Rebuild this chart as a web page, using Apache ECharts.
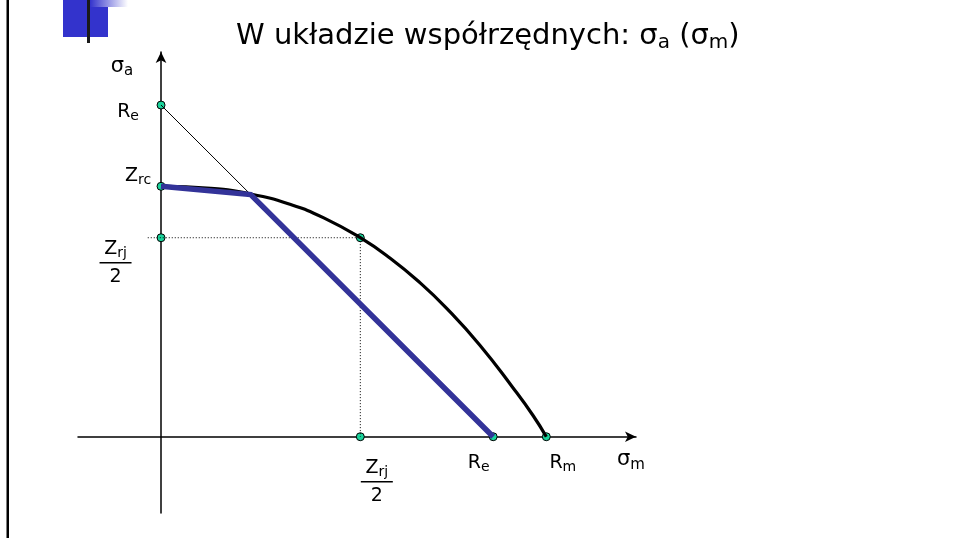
<!DOCTYPE html>
<html>
<head>
<meta charset="utf-8">
<script src="https://cdn.jsdelivr.net/npm/echarts@6/dist/echarts.min.js"></script>
<style>
  html, body { margin: 0; padding: 0; background: #fff; }
  #chart { width: 961px; height: 538px; }
</style>
</head>
<body>
<div id="chart"></div>
<script>
// Fatigue limit diagram in sigma_a(sigma_m) coordinates (values in % of Re)
const Re = 100;        // yield strength
const Rm = 116;        // tensile strength
const Zrc = 75.5;      // fully reversed fatigue limit
const ZrjHalf = 60;    // half of the pulsating fatigue limit
const kink = [27, 73]; // where the yield line meets the limit curve

// limit curve through Zrc, Zrj/2 and Rm
const curveSigmaM = [0, 15, 27, 39, 49, 60, 69, 78, 86, 96, 106, 112, 116];
const curveSigmaA = [75.5, 74.9, 73.2, 70.0, 66.0, 60, 53.8, 46.4, 38.7, 27.6, 14.7, 6.4, 0];

// simplified (design) limit polyline
const simplifiedSigmaM = [0, kink[0], Re];
const simplifiedSigmaA = [Zrc, kink[1], 0];

// yield line from Re on the sigma_a axis
const yieldSigmaM = [0, kink[0]];
const yieldSigmaA = [Re, kink[1]];

// guide lines to the Zrj/2 point
const guideSigmaM = [-4, ZrjHalf, ZrjHalf];
const guideSigmaA = [ZrjHalf, ZrjHalf, 0];

// marked points and their names
const pointSigmaM = [0, 0, 0, ZrjHalf, ZrjHalf, Re, Rm];
const pointSigmaA = [Re, Zrc, ZrjHalf, ZrjHalf, 0, 0, 0];
const pointNames = ['Re', 'Zrc', 'Zrj/2', '', 'Zrj/2', 'Re', 'Rm'];

const FONT = 'DejaVu Sans';
const zip = (xs, ys) => xs.map((x, i) => [x, ys[i]]);

const rich = {
  m: { fontFamily: FONT, fontSize: 19, color: '#000', lineHeight: 22 },
  s: { fontFamily: FONT, fontSize: 14, color: '#000', lineHeight: 22, padding: [9, 0, 0, 0] },
  bar: { width: 32, height: 1.5, lineHeight: 6, backgroundColor: '#000' },
  g: { fontFamily: FONT, fontSize: 21, color: '#000', lineHeight: 24 },
  gs: { fontFamily: FONT, fontSize: 15, color: '#000', lineHeight: 24, padding: [10, 0, 0, 0] }
};

function labelText(name) {
  if (name === 'Zrj/2') return '{m|Z}{s|rj}\n{bar|}\n{m|2}';
  if (!name) return '';
  return '{m|' + name[0] + '}{s|' + name.slice(1) + '}';
}

// label placement around each point (pixel offsets from the marker)
const labelOffsets = [[-33, 7], [-23, -10], [-45.5, 25], [0, 0], [16.5, 45], [-14.5, 26.5], [16.5, 26.5]];

const pointData = zip(pointSigmaM, pointSigmaA).map((v, i) => ({
  value: v,
  label: {
    show: !!pointNames[i],
    position: 'inside',
    offset: labelOffsets[i],
    formatter: labelText(pointNames[i]),
    rich: rich
  }
}));

const chart = echarts.init(document.getElementById('chart'), null, { renderer: 'canvas' });

chart.setOption({
  backgroundColor: '#fff',
  animation: false,
  title: {
    left: 231,
    top: 14,
    text: '{t|W układzie współrzędnych: σ}{ts|a}{t| (σ}{ts|m}{t|)}',
    textStyle: {
      fontWeight: 'normal',
      rich: {
        t: { fontFamily: FONT, fontSize: 29, fontWeight: 'normal', color: '#000', lineHeight: 35 },
        ts: { fontFamily: FONT, fontSize: 20, fontWeight: 'normal', color: '#000', lineHeight: 35, padding: [12, 0, 0, 0] }
      }
    }
  },
  grid: { left: 78, right: 325, top: 52, bottom: 25, containLabel: false },
  xAxis: {
    type: 'value',
    min: -25,
    max: 143,
    name: '{g|σ}{gs|m}',
    nameLocation: 'end',
    nameGap: -5,
    nameTextStyle: { align: 'center', verticalAlign: 'top', padding: [11, 0, 0, 0], rich: rich },
    axisLine: {
      onZero: true,
      symbol: ['none', 'arrow'],
      symbolSize: [8, 11],
      lineStyle: { color: '#000', width: 1.5 }
    },
    axisTick: { show: false },
    axisLabel: { show: false },
    splitLine: { show: false }
  },
  yAxis: {
    type: 'value',
    min: -23,
    max: 116,
    name: '{g|σ}{gs|a}',
    nameLocation: 'end',
    nameGap: -14.5,
    nameTextStyle: { align: 'center', verticalAlign: 'middle', padding: [0, 78, 0, 0], rich: rich },
    axisLine: {
      onZero: true,
      symbol: ['none', 'arrow'],
      symbolSize: [8, 11],
      lineStyle: { color: '#000', width: 1.5 }
    },
    axisTick: { show: false },
    axisLabel: { show: false },
    splitLine: { show: false }
  },
  series: [
    {
      name: 'punkty',
      type: 'scatter',
      z: 1,
      symbol: 'circle',
      symbolSize: 8,
      itemStyle: { color: '#19d39b', borderColor: '#000', borderWidth: 1, opacity: 1 },
      data: pointData
    },
    {
      name: 'linie pomocnicze',
      type: 'line',
      z: 2,
      symbol: 'none',
      lineStyle: { color: '#000', width: 1, type: [1, 2] },
      data: zip(guideSigmaM, guideSigmaA)
    },
    {
      name: 'granica plastyczności',
      type: 'line',
      z: 3,
      symbol: 'none',
      lineStyle: { color: '#000', width: 1 },
      data: zip(yieldSigmaM, yieldSigmaA)
    },
    {
      name: 'wykres Haigha',
      type: 'line',
      z: 3,
      smooth: 0.5,
      symbol: 'none',
      lineStyle: { color: '#000', width: 3.2 },
      data: zip(curveSigmaM, curveSigmaA)
    },
    {
      name: 'wykres uproszczony',
      type: 'line',
      z: 4,
      symbol: 'none',
      lineStyle: { color: '#333399', width: 5.5, join: 'miter' },
      data: zip(simplifiedSigmaM, simplifiedSigmaA)
    }
  ],
  graphic: [
    { type: 'rect', shape: { x: 6.5, y: 0, width: 2.5, height: 538 }, style: { fill: '#000' } },
    { type: 'rect', shape: { x: 63, y: 0, width: 45, height: 37 }, style: { fill: '#3333cc' } },
    {
      type: 'rect', shape: { x: 90, y: 0, width: 38, height: 7 },
      style: {
        fill: new echarts.graphic.LinearGradient(0, 0, 1, 0, [
          { offset: 0, color: '#3333cc' },
          { offset: 1, color: '#ffffff' }
        ])
      }
    },
    { type: 'rect', shape: { x: 87, y: 0, width: 3, height: 43 }, style: { fill: '#1a1a1a' } }
  ]
});
</script>
</body>
</html>
